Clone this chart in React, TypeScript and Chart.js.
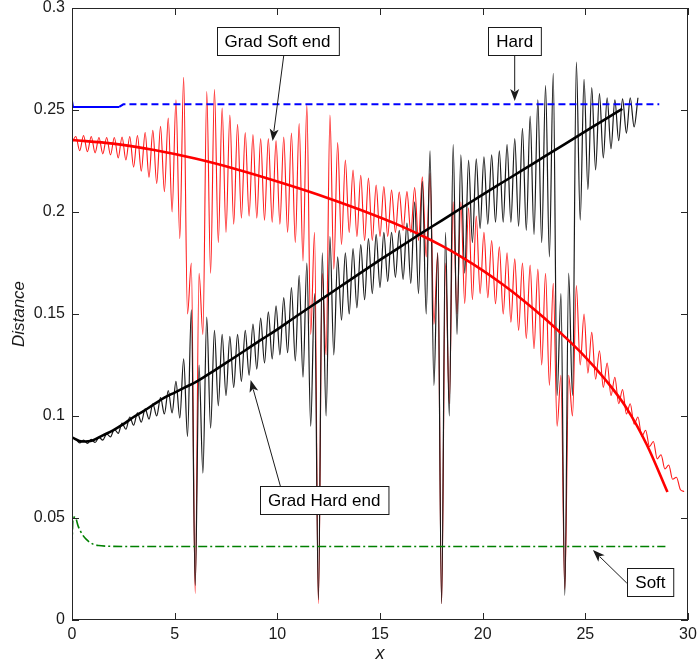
import React, { useEffect, useRef } from 'react';
import { Chart, registerables } from 'chart.js';

Chart.register(...registerables);

// ---------------- data ----------------
const X_TICK_LABELS = ['0', '5', '10', '15', '20', '25', '30'];
const Y_TICK_LABELS = ['0', '0.05', '0.1', '0.15', '0.2', '0.25', '0.3'];

// Oscillating curves: troughs sit at k*OSC_PERIOD, peaks half a period later.
const OSC_PERIOD = 0.375;

const GRAD_SOFT_TROUGHS = [
  0.234, 0.230, 0.2295, 0.229, 0.2285, 0.228, 0.2265, 0.2255, 0.222, 0.220,
  0.217, 0.214, 0.210, 0.200, 0.187, 0.150, 0.013, 0.140, 0.170, 0.185,
  0.190, 0.194, 0.197, 0.198, 0.197, 0.196, 0.195, 0.194, 0.190, 0.185,
  0.176, 0.140, 0.008, 0.130, 0.172, 0.184, 0.190, 0.188, 0.186, 0.186,
  0.188, 0.188, 0.190, 0.191, 0.190, 0.186, 0.178, 0.145, 0.008, 0.106,
  0.150, 0.155, 0.157, 0.160, 0.158, 0.155, 0.150, 0.146, 0.142, 0.138,
  0.133, 0.125, 0.115, 0.095, 0.015, 0.100, 0.125, 0.121, 0.118, 0.114,
  0.110, 0.106, 0.101, 0.096, 0.090, 0.085, 0.079, 0.074, 0.069, 0.064,
];
const GRAD_SOFT_PEAKS = [
  0.237, 0.2375, 0.237, 0.2365, 0.2365, 0.2365, 0.2368, 0.237, 0.2375, 0.239,
  0.240, 0.242, 0.246, 0.255, 0.266, 0.175, 0.170, 0.259, 0.260, 0.251,
  0.2475, 0.243, 0.239, 0.238, 0.236, 0.236, 0.235, 0.2368, 0.2387, 0.2434,
  0.2524, 0.190, 0.170, 0.2475, 0.234, 0.2255, 0.2206, 0.218, 0.2167, 0.2132,
  0.2125, 0.2107, 0.2098, 0.210, 0.212, 0.2172, 0.219, 0.180, 0.175, 0.205,
  0.205, 0.202, 0.198, 0.190, 0.186, 0.183, 0.180, 0.177, 0.175, 0.174,
  0.172, 0.170, 0.165, 0.120, 0.120, 0.164, 0.150, 0.141, 0.132, 0.126,
  0.119, 0.113, 0.106, 0.0995, 0.093, 0.0875, 0.081, 0.076, 0.070, 0.063,
];

const GRAD_HARD_TROUGHS = [
  0.0898, 0.0868, 0.0866, 0.087, 0.0882, 0.0898, 0.0915, 0.0935, 0.0955, 0.097,
  0.0985, 0.100, 0.101, 0.1015, 0.099, 0.090, 0.017, 0.072, 0.094, 0.105,
  0.110, 0.114, 0.117, 0.120, 0.123, 0.126, 0.128, 0.130, 0.131, 0.127,
  0.119, 0.095, 0.010, 0.100, 0.130, 0.147, 0.150, 0.153, 0.157, 0.160,
  0.163, 0.166, 0.168, 0.167, 0.165, 0.160, 0.150, 0.115, 0.008, 0.100,
  0.140, 0.170, 0.185, 0.192, 0.194, 0.195, 0.195, 0.195, 0.193, 0.191,
  0.189, 0.185, 0.178, 0.110, 0.012, 0.110, 0.196, 0.211, 0.2206, 0.2265,
  0.231, 0.235, 0.2387, 0.2417,
];
const GRAD_HARD_PEAKS = [
  0.0885, 0.0882, 0.0885, 0.0895, 0.0912, 0.0935, 0.0965, 0.0995, 0.1015, 0.1035,
  0.106, 0.109, 0.1125, 0.117, 0.128, 0.152, 0.125, 0.1485, 0.142, 0.140,
  0.139, 0.140, 0.142, 0.145, 0.148, 0.151, 0.154, 0.158, 0.163, 0.169,
  0.175, 0.160, 0.180, 0.188, 0.178, 0.180, 0.182, 0.184, 0.187, 0.189,
  0.190, 0.190, 0.191, 0.1945, 0.205, 0.215, 0.230, 0.180, 0.190, 0.233,
  0.228, 0.2255, 0.226, 0.227, 0.228, 0.230, 0.233, 0.236, 0.241, 0.247,
  0.255, 0.262, 0.268, 0.160, 0.170, 0.2735, 0.265, 0.261, 0.258, 0.256,
  0.255, 0.2555, 0.256, 0.256,
];

// Smooth curves
const SOFT_SMOOTH_X = [0, 2, 4, 6, 8, 10, 12, 14, 16, 17, 18, 19, 20, 21, 22, 23, 24, 25, 26, 27, 28, 29];
const SOFT_SMOOTH_Y = [
  0.2353, 0.2335, 0.2304, 0.2262, 0.221, 0.215, 0.2085, 0.2012, 0.1932, 0.1886,
  0.1835, 0.1778, 0.1714, 0.1643, 0.1565, 0.148, 0.1388, 0.1289, 0.1175, 0.104,
  0.0858, 0.0627,
];
const HARD_SMOOTH_X = [0, 0.5, 1, 1.5, 2, 2.5, 3, 3.5, 4, 4.5, 5, 5.5, 6, 6.5, 7, 7.5, 8, 8.5, 9, 9.5, 10, 11, 12, 13, 14, 15, 16, 17, 18, 19, 20, 21, 22, 23, 24, 25, 26, 26.8];
const HARD_SMOOTH_Y = [
  0.0895, 0.0875, 0.088, 0.0905, 0.093, 0.096, 0.0995, 0.1025, 0.1058, 0.109,
  0.1115, 0.114, 0.1165, 0.1195, 0.1227, 0.126, 0.1293, 0.1326, 0.136, 0.1392,
  0.1425, 0.1494, 0.1562, 0.163, 0.1698, 0.1765, 0.183, 0.1895, 0.1958, 0.2022,
  0.2085, 0.2147, 0.2209, 0.2271, 0.2333, 0.2395, 0.2457, 0.2505,
];

// Flat reference curves
const HARD_X = [0, 0.05, 2.3, 2.5, 28.6];
const HARD_Y = [0.2545, 0.2515, 0.2515, 0.2528, 0.2528];
const SOFT_X = [0, 0.05, 0.15, 0.3, 0.5, 0.7, 1.0, 1.3, 1.7, 2.5, 28.9];
const SOFT_Y = [0.036, 0.050, 0.0505, 0.046, 0.042, 0.0395, 0.0373, 0.0365, 0.0362, 0.036, 0.036];

// Callouts: label, box centre, arrow start, arrow tip (data coordinates)
const CALLOUTS = [
  { text: 'Grad Soft end', box: [10.01, 0.2836], from: [10.31, 0.2765], to: [9.77, 0.2348] },
  { text: 'Hard', box: [21.56, 0.2836], from: [21.56, 0.2765], to: [21.56, 0.2544] },
  { text: 'Grad Hard end', box: [12.28, 0.0586], from: [10.16, 0.0652], to: [8.70, 0.1176] },
  { text: 'Soft', box: [28.17, 0.0184], from: [27.02, 0.0181], to: [25.37, 0.0343] },
];

// ---------------- helpers ----------------
const zipXY = (xs: number[], ys: number[]) => xs.map((x, i) => ({ x, y: ys[i] }));
const oscillation = (troughs: number[], peaks: number[]) => {
  const pts: { x: number; y: number }[] = [];
  troughs.forEach((t, k) => {
    pts.push({ x: k * OSC_PERIOD, y: t });
    if (peaks[k] !== undefined) pts.push({ x: k * OSC_PERIOD + OSC_PERIOD / 2, y: peaks[k] });
  });
  return pts;
};

const FONT = "'Liberation Sans', Arial, sans-serif";

const frameAndCallouts = {
  id: 'frameAndCallouts',
  afterDraw(chart: any) {
    const { ctx, chartArea: a, scales } = chart;
    const xs = scales.x;
    const ys = scales.y;
    ctx.save();
    ctx.strokeStyle = '#262626';
    ctx.lineWidth = 1;
    ctx.strokeRect(a.left + 0.5, a.top + 0.5, a.right - a.left - 1, a.bottom - a.top - 1);
    const TL = 7;
    ctx.beginPath();
    xs.ticks.forEach((t: any) => {
      const px = Math.round(xs.getPixelForValue(t.value)) + 0.5;
      ctx.moveTo(px, a.bottom);
      ctx.lineTo(px, a.bottom - TL);
      ctx.moveTo(px, a.top);
      ctx.lineTo(px, a.top + TL);
    });
    ys.ticks.forEach((t: any) => {
      const py = Math.round(ys.getPixelForValue(t.value)) + 0.5;
      ctx.moveTo(a.left, py);
      ctx.lineTo(a.left + TL, py);
      ctx.moveTo(a.right, py);
      ctx.lineTo(a.right - TL, py);
    });
    ctx.stroke();

    // callouts
    ctx.font = `17px ${FONT}`;
    ctx.textAlign = 'center';
    ctx.textBaseline = 'middle';
    CALLOUTS.forEach((c) => {
      const fx = xs.getPixelForValue(c.from[0]);
      const fy = ys.getPixelForValue(c.from[1]);
      const tx = xs.getPixelForValue(c.to[0]);
      const ty = ys.getPixelForValue(c.to[1]);
      const ang = Math.atan2(ty - fy, tx - fx);
      const HL = 12;
      const HW = 4.5;
      ctx.strokeStyle = '#1a1a1a';
      ctx.fillStyle = '#1a1a1a';
      ctx.lineWidth = 1;
      ctx.beginPath();
      ctx.moveTo(fx, fy);
      ctx.lineTo(tx - Math.cos(ang) * HL * 0.8, ty - Math.sin(ang) * HL * 0.8);
      ctx.stroke();
      ctx.beginPath();
      ctx.moveTo(tx, ty);
      ctx.lineTo(tx - Math.cos(ang) * HL + Math.sin(ang) * HW, ty - Math.sin(ang) * HL - Math.cos(ang) * HW);
      ctx.lineTo(tx - Math.cos(ang) * HL * 0.75, ty - Math.sin(ang) * HL * 0.75);
      ctx.lineTo(tx - Math.cos(ang) * HL - Math.sin(ang) * HW, ty - Math.sin(ang) * HL + Math.cos(ang) * HW);
      ctx.closePath();
      ctx.fill();

      const bx = xs.getPixelForValue(c.box[0]);
      const by = ys.getPixelForValue(c.box[1]);
      const w = ctx.measureText(c.text).width + 16;
      const h = 28;
      const left = Math.round(bx - w / 2) + 0.5;
      const top = Math.round(by - h / 2) + 0.5;
      ctx.fillStyle = '#ffffff';
      ctx.fillRect(left, top, w, h);
      ctx.strokeStyle = '#1a1a1a';
      ctx.strokeRect(left, top, w, h);
      ctx.fillStyle = '#000000';
      ctx.fillText(c.text, bx, by + 1);
    });
    ctx.restore();
  },
};

export default function App() {
  const ref = useRef<HTMLCanvasElement | null>(null);

  useEffect(() => {
    if (!ref.current) return;
    const chart = new Chart(ref.current, {
      type: 'line',
      data: {
        datasets: [
          {
            label: 'Hard',
            data: zipXY(HARD_X, HARD_Y),
            borderColor: '#0000ff',
            borderWidth: 2,
            borderDash: [7, 4],
            segment: { borderDash: (c: any) => (c.p1.parsed.x <= 2.3 ? [] : undefined) },
            pointRadius: 0,
            order: 0,
          },
          {
            label: 'Soft',
            data: zipXY(SOFT_X, SOFT_Y),
            borderColor: '#008000',
            borderWidth: 1.6,
            borderDash: [9, 3, 2, 3],
            pointRadius: 0,
            cubicInterpolationMode: 'monotone',
            order: 1,
          },
          {
            label: 'Grad Hard end (smooth)',
            data: zipXY(HARD_SMOOTH_X, HARD_SMOOTH_Y),
            borderColor: '#000000',
            borderWidth: 2.6,
            pointRadius: 0,
            cubicInterpolationMode: 'monotone',
            order: 2,
          },
          {
            label: 'Grad Soft end (smooth)',
            data: zipXY(SOFT_SMOOTH_X, SOFT_SMOOTH_Y),
            borderColor: '#ff0000',
            borderWidth: 2.6,
            pointRadius: 0,
            cubicInterpolationMode: 'monotone',
            order: 3,
          },
          {
            label: 'Grad Hard end',
            data: oscillation(GRAD_HARD_TROUGHS, GRAD_HARD_PEAKS),
            borderColor: '#1a1a1a',
            borderWidth: 1.2,
            pointRadius: 0,
            cubicInterpolationMode: 'monotone',
            order: 4,
          },
          {
            label: 'Grad Soft end',
            data: oscillation(GRAD_SOFT_TROUGHS, GRAD_SOFT_PEAKS),
            borderColor: '#ff1a1a',
            borderWidth: 1.1,
            pointRadius: 0,
            cubicInterpolationMode: 'monotone',
            order: 5,
          },
        ],
      },
      options: {
        responsive: false,
        animation: false,
        devicePixelRatio: 1,
        layout: { padding: { left: 0, top: 8, right: 12, bottom: 0 } },
        plugins: { legend: { display: false }, tooltip: { enabled: false } },
        scales: {
          x: {
            type: 'linear',
            min: 0,
            max: 30,
            afterFit: (s: any) => {
              s.height = 46;
              s.paddingLeft = 0;
              s.paddingRight = 0;
            },
            ticks: {
              stepSize: 5,
              color: '#1a1a1a',
              font: { family: FONT, size: 16 },
              padding: 5,
              maxRotation: 0,
              callback: (_v: any, i: number) => X_TICK_LABELS[i],
            },
            grid: { drawOnChartArea: false, drawTicks: false },
            border: { display: false },
            title: {
              display: true,
              text: 'x',
              color: '#1a1a1a',
              font: { family: FONT, size: 18, style: 'italic' },
              padding: { top: 0, bottom: 1 },
            },
          },
          y: {
            type: 'linear',
            min: 0,
            max: 0.3,
            afterFit: (s: any) => {
              s.width = 72;
              s.paddingTop = 0;
              s.paddingBottom = 0;
            },
            ticks: {
              stepSize: 0.05,
              color: '#1a1a1a',
              font: { family: FONT, size: 16 },
              padding: 7,
              callback: (_v: any, i: number) => Y_TICK_LABELS[i],
            },
            grid: { drawOnChartArea: false, drawTicks: false },
            border: { display: false },
            title: {
              display: true,
              text: 'Distance',
              color: '#1a1a1a',
              font: { family: FONT, size: 17, style: 'italic' },
              padding: { top: 9, bottom: 0 },
            },
          },
        },
      },
      plugins: [frameAndCallouts],
    } as any);
    return () => chart.destroy();
  }, []);

  return (
    <div style={{ position: 'fixed', left: 0, top: 0, width: 700, height: 666, background: '#fff' }}>
      <canvas ref={ref} width={700} height={666} style={{ display: 'block' }} />
    </div>
  );
}
